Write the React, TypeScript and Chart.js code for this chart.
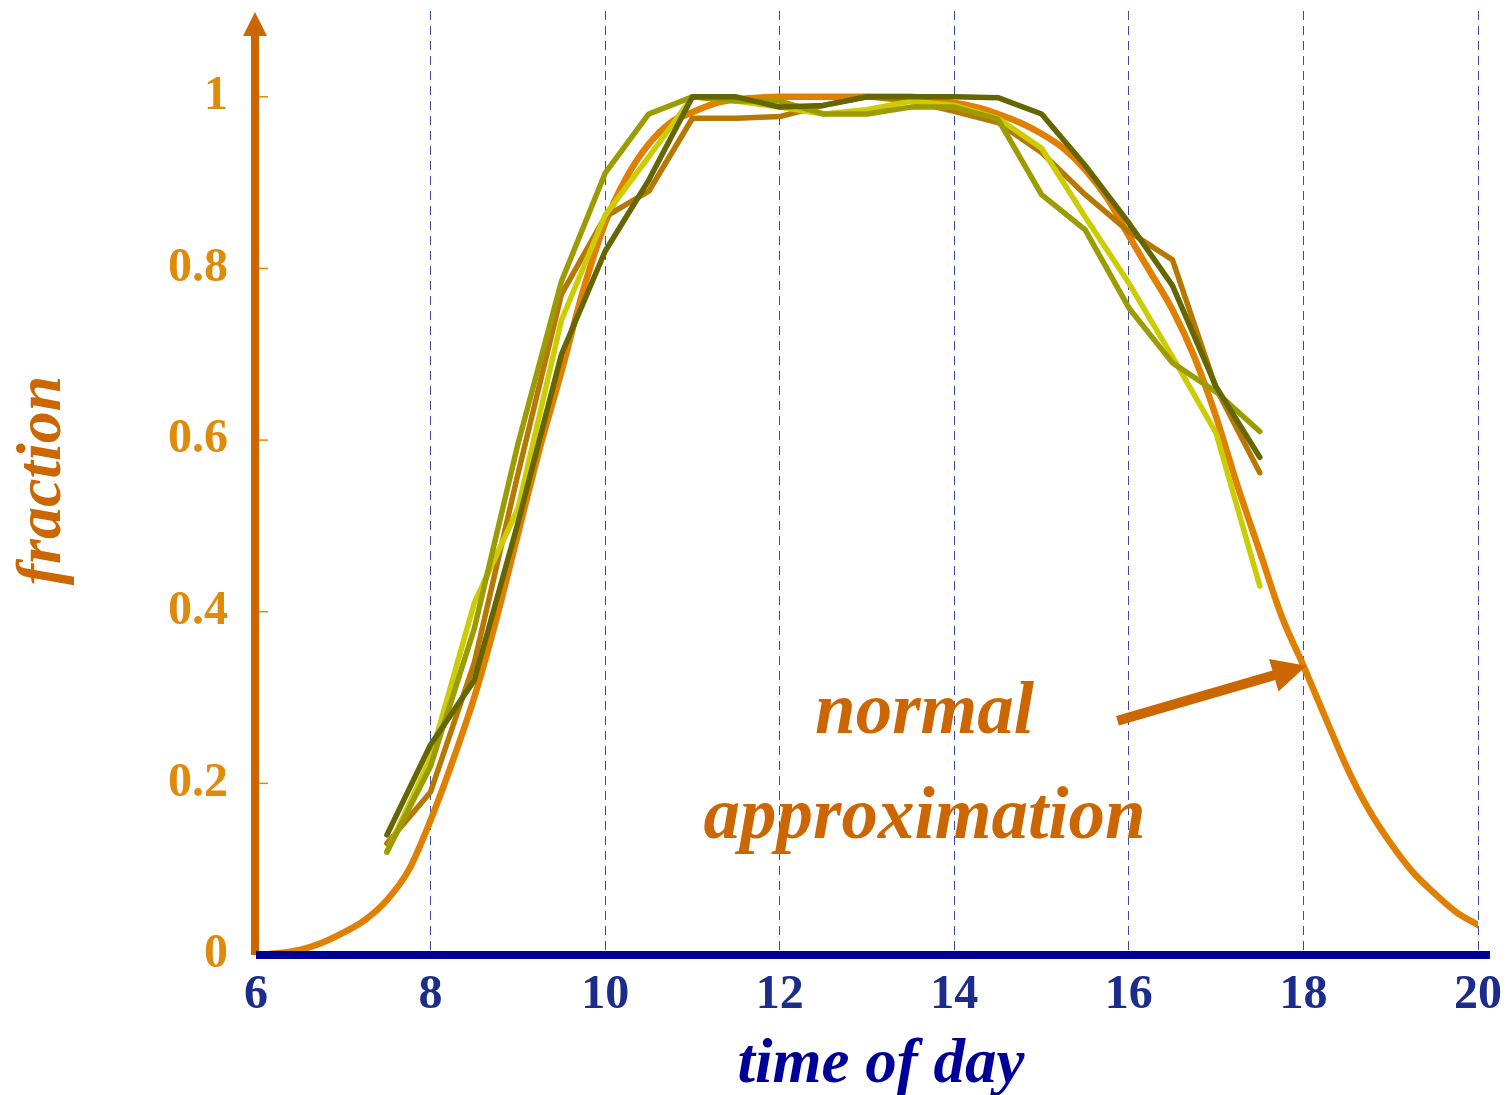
import { useEffect, useRef } from "react";
import { Chart, registerables } from "chart.js";

Chart.register(...registerables);

const SERIF = '"Liberation Serif", "DejaVu Serif", "Times New Roman", serif';

// Axis ticks
const hourTicks = [6, 8, 10, 12, 14, 16, 18, 20];
const fractionTicks = [0, 0.2, 0.4, 0.6, 0.8, 1];
const fractionTickLabels = ["0", "0.2", "0.4", "0.6", "0.8", "1"];

// Half-hourly observation times
const obsHours = [
  7.5, 8, 8.5, 9, 9.5, 10, 10.5, 11, 11.5, 12, 12.5, 13, 13.5, 14, 14.5, 15,
  15.5, 16, 16.5, 17, 17.5,
];

// Observed fractions, one list per series
const seriesDarkOlive = [
  0.14, 0.245, 0.32, 0.503, 0.7, 0.82, 0.903, 1.0, 1.0, 0.988, 0.99, 1.0, 1.0,
  1.0, 0.999, 0.98, 0.92, 0.853, 0.78, 0.662, 0.58,
];
const seriesOlive = [
  0.12, 0.22, 0.38, 0.595, 0.785, 0.911, 0.98, 1.0, 0.995, 0.995, 0.98, 0.98,
  0.988, 0.988, 0.974, 0.886, 0.845, 0.754, 0.69, 0.656, 0.61,
];
const seriesYellow = [
  0.12, 0.23, 0.41, 0.52, 0.74, 0.862, 0.93, 1.0, 0.995, 0.988, 0.98, 0.985,
  0.995, 0.99, 0.975, 0.94, 0.86, 0.783, 0.697, 0.608, 0.43,
];
const seriesBrown = [
  0.13, 0.19, 0.34, 0.56, 0.77, 0.86, 0.89, 0.975, 0.975, 0.977, 0.99, 1.0,
  0.995, 0.983, 0.97, 0.935, 0.886, 0.843, 0.81, 0.66, 0.562,
];

// Normal approximation, quarter-hourly
const normHours = [
  6, 6.25, 6.5, 6.75, 7, 7.25, 7.5, 7.75, 8, 8.25, 8.5, 8.75, 9, 9.25, 9.5,
  9.75, 10, 10.25, 10.5, 10.75, 11, 11.25, 11.5, 11.75, 12, 12.25, 12.5, 12.75,
  13, 13.25, 13.5, 13.75, 14, 14.25, 14.5, 14.75, 15, 15.25, 15.5, 15.75, 16,
  16.25, 16.5, 16.75, 17, 17.25, 17.5, 17.75, 18, 18.25, 18.5, 18.75, 19,
  19.25, 19.5, 19.75, 20,
];
const normValues = [
  0, 0.002, 0.006, 0.014, 0.026, 0.041, 0.064, 0.099, 0.157, 0.225, 0.3,
  0.39, 0.49, 0.59, 0.68, 0.775, 0.853, 0.907, 0.945, 0.97, 0.982, 0.992,
  0.997, 0.999, 1, 1, 1, 1, 1, 1, 1, 0.997, 0.993, 0.988, 0.98, 0.97, 0.957,
  0.94, 0.915, 0.882, 0.838, 0.795, 0.752, 0.697, 0.627, 0.545, 0.47, 0.395,
  0.337, 0.277, 0.218, 0.169, 0.13, 0.097, 0.072, 0.05, 0.035,
];

const ARROW_TARGET_HOUR = 18;

const toPoints = (xs: number[], ys: number[]) =>
  xs.map((x, i) => ({ x, y: ys[i] }));

const lineStyle = (color: string, width: number, order: number) => ({
  borderColor: color,
  backgroundColor: color,
  borderWidth: width,
  pointRadius: 0,
  tension: 0,
  fill: false,
  borderCapStyle: "round" as const,
  borderJoinStyle: "round" as const,
  order,
});

const noScalePadding = (s: any) => {
  s.paddingTop = 0;
  s.paddingBottom = 0;
  s.paddingLeft = 0;
  s.paddingRight = 0;
};

// Axes with arrow, small inner ticks, axis titles and the annotation
const decorations = {
  id: "decorations",
  afterDatasetsDraw(chart: any) {
    const { ctx, chartArea, scales } = chart;
    const xs = scales.x;
    const ys = scales.y;
    const x0 = xs.getPixelForValue(6);
    const y0 = ys.getPixelForValue(0);
    ctx.save();

    // vertical axis with arrow head
    ctx.strokeStyle = "#cc6600";
    ctx.fillStyle = "#cc6600";
    ctx.lineWidth = 8;
    ctx.beginPath();
    ctx.moveTo(x0 - 1, y0);
    ctx.lineTo(x0 - 1, chartArea.top + 22);
    ctx.stroke();
    ctx.beginPath();
    ctx.moveTo(x0 - 1, chartArea.top + 1);
    ctx.lineTo(x0 - 13, chartArea.top + 25);
    ctx.lineTo(x0 + 11, chartArea.top + 25);
    ctx.closePath();
    ctx.fill();

    // small inward tick marks
    ctx.strokeStyle = "#e08a00";
    ctx.lineWidth = 1.5;
    fractionTicks.forEach((v) => {
      if (v === 0) return;
      const py = ys.getPixelForValue(v);
      ctx.beginPath();
      ctx.moveTo(x0 + 3, py);
      ctx.lineTo(x0 + 12, py);
      ctx.stroke();
    });

    // horizontal axis
    ctx.strokeStyle = "#000099";
    ctx.lineWidth = 8;
    ctx.beginPath();
    ctx.moveTo(x0, y0);
    ctx.lineTo(chartArea.right + 12, y0);
    ctx.stroke();

    // axis titles
    ctx.fillStyle = "#000099";
    ctx.font = `italic bold 63px ${SERIF}`;
    ctx.textAlign = "center";
    ctx.textBaseline = "alphabetic";
    ctx.fillText("time of day", xs.getPixelForValue(13.16), 1082);

    ctx.save();
    ctx.translate(60, ys.getPixelForValue(0.553));
    ctx.rotate(-Math.PI / 2);
    ctx.fillStyle = "#cc6600";
    ctx.font = `italic bold 64px ${SERIF}`;
    ctx.fillText("fraction", 0, 0);
    ctx.restore();

    // annotation text
    ctx.fillStyle = "#cc6600";
    ctx.font = `italic bold 73px ${SERIF}`;
    ctx.fillText("normal", xs.getPixelForValue(13.66), ys.getPixelForValue(0.259));
    ctx.fillText("approximation", xs.getPixelForValue(13.66), ys.getPixelForValue(0.136));

    // annotation arrow pointing at the curve
    const ti = normHours.indexOf(ARROW_TARGET_HOUR);
    const tx = xs.getPixelForValue(ARROW_TARGET_HOUR) + 3;
    const ty = ys.getPixelForValue(normValues[ti]);
    const sx = xs.getPixelForValue(15.87);
    const sy = ys.getPixelForValue(0.273);
    const ang = Math.atan2(ty - sy, tx - sx);
    const headLen = 34;
    const headHalf = 17;
    const bx = tx - headLen * Math.cos(ang);
    const by = ty - headLen * Math.sin(ang);
    ctx.strokeStyle = "#cc6600";
    ctx.lineWidth = 10;
    ctx.lineCap = "butt";
    ctx.beginPath();
    ctx.moveTo(sx, sy);
    ctx.lineTo(bx + 2 * Math.cos(ang), by + 2 * Math.sin(ang));
    ctx.stroke();
    ctx.beginPath();
    ctx.moveTo(tx, ty);
    ctx.lineTo(bx - headHalf * Math.sin(ang), by + headHalf * Math.cos(ang));
    ctx.lineTo(bx + headHalf * Math.sin(ang), by - headHalf * Math.cos(ang));
    ctx.closePath();
    ctx.fill();

    ctx.restore();
  },
};

export default function App() {
  const canvasRef = useRef<HTMLCanvasElement | null>(null);

  useEffect(() => {
    const canvas = canvasRef.current;
    if (!canvas) return;
    const chart = new Chart(canvas, {
      type: "line",
      data: {
        datasets: [
          {
            label: "normal approximation",
            data: toPoints(normHours, normValues),
            ...lineStyle("#e08000", 6.5, 5),
            cubicInterpolationMode: "monotone",
          },
          {
            label: "series 4",
            data: toPoints(obsHours, seriesBrown),
            ...lineStyle("#b67800", 5.5, 4),
          },
          {
            label: "series 3",
            data: toPoints(obsHours, seriesYellow),
            ...lineStyle("#cccc00", 5.5, 3),
          },
          {
            label: "series 2",
            data: toPoints(obsHours, seriesOlive),
            ...lineStyle("#9c9c00", 5.5, 2),
          },
          {
            label: "series 1",
            data: toPoints(obsHours, seriesDarkOlive),
            ...lineStyle("#666600", 5.5, 1),
          },
        ],
      },
      options: {
        responsive: false,
        animation: false,
        events: [],
        layout: { padding: { top: 11, right: 30, left: 0, bottom: 0 } },
        plugins: {
          legend: { display: false },
          tooltip: { enabled: false },
          title: { display: false },
        },
        scales: {
          x: {
            type: "linear",
            min: 6,
            max: 20,
            afterBuildTicks: (s: any) => {
              s.ticks = hourTicks.map((v) => ({ value: v }));
            },
            afterFit: (s: any) => {
              s.height = 140;
              noScalePadding(s);
            },
            ticks: {
              padding: 12,
              color: "#1c2c8c",
              font: { family: SERIF, size: 48, weight: "bold" },
              maxRotation: 0,
              autoSkip: false,
              callback: (v: any) => String(v),
            },
            grid: {
              display: true,
              drawTicks: false,
              lineWidth: 1,
              color: (c: any) =>
                c.tick && c.tick.value === 6 ? "rgba(0,0,0,0)" : "#3b4ba8",
            },
            border: { display: false, dash: [9, 6] },
          },
          y: {
            type: "linear",
            min: 0,
            max: 1.1,
            afterBuildTicks: (s: any) => {
              s.ticks = fractionTicks.map((v) => ({ value: v }));
            },
            afterFit: (s: any) => {
              s.width = 256;
              noScalePadding(s);
            },
            ticks: {
              padding: 20,
              color: "#e08a0a",
              font: { family: SERIF, size: 48, weight: "bold" },
              autoSkip: false,
              callback: (v: any) => {
                const i = fractionTicks.findIndex((t) => Math.abs(t - v) < 1e-9);
                return i >= 0 ? fractionTickLabels[i] : "";
              },
            },
            grid: { display: false },
            border: { display: false },
          },
        },
      },
      plugins: [decorations],
    });
    return () => chart.destroy();
  }, []);

  return (
    <div
      style={{
        position: "fixed",
        left: 0,
        top: 0,
        width: 1508,
        height: 1095,
        background: "#ffffff",
      }}
    >
      <canvas
        ref={canvasRef}
        width={1508}
        height={1095}
        style={{ display: "block", width: 1508, height: 1095 }}
      />
    </div>
  );
}
